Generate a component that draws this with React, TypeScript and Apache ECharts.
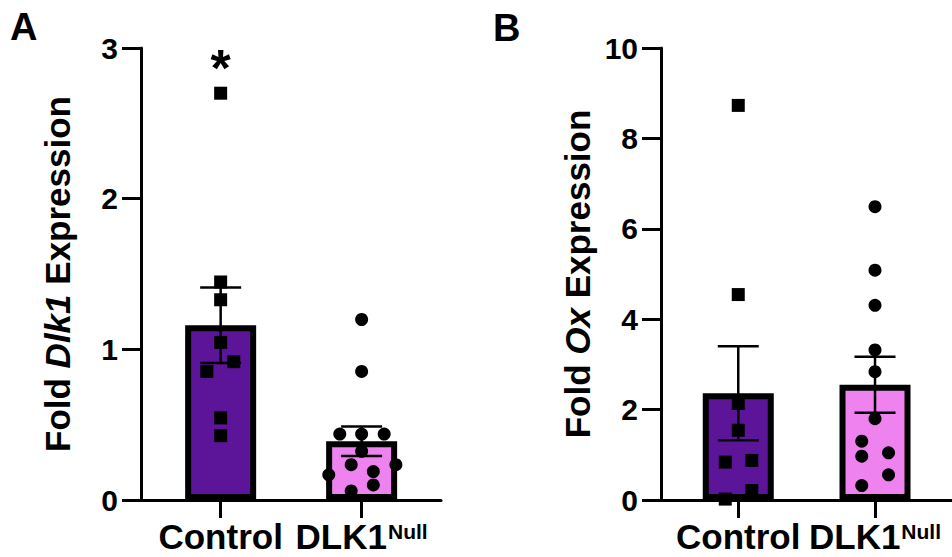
import React, { useEffect, useRef } from "react";
import * as echarts from "echarts";

// ---------- data ----------
const categories = ["Control", "DLK1"];
const catIndex = [0, 1];

// Panel A: Fold Dlk1 expression
const dlk1Means = [1.16, 0.39];
const dlk1Sem = [0.25, 0.098];
const dlk1ControlPoints = [2.7, 1.447, 1.329, 1.046, 0.918, 0.853, 0.545, 0.427];
const dlk1ControlJitter = [0, 0, 0, 0, 0.093, -0.098, 0, 0];
const dlk1NullPoints = [1.198, 0.853, 0.438, 0.438, 0.438, 0.323, 0.234, 0.234, 0.167, 0.189, 0.1, 0.06];
const dlk1NullJitter = [0, 0, -0.155, 0, 0.16, 0, -0.074, 0.243, -0.233, 0.083, 0.083, -0.074];
const dlk1AxisMax = 3;
const dlk1AxisStep = 1;
const dlk1Significance = 2.92;

// Panel B: Fold Ox expression
const oxMeans = [2.36, 2.55];
const oxSem = [1.04, 0.62];
const oxControlPoints = [8.73, 4.545, 2.135, 1.543, 0.838, 0.876, 0.209, 0.02];
const oxControlJitter = [0, 0, 0, 0, -0.095, 0.099, 0.099, -0.095];
const oxNullPoints = [6.49, 5.085, 4.307, 3.32, 2.84, 1.8, 1.3, 0.97, 1.045, 0.556, 0.32];
const oxNullJitter = [0, 0, 0, 0, 0, 0, -0.097, -0.097, 0.099, 0.099, -0.097];
const oxAxisMax = 10;
const oxAxisStep = 2;

// ---------- styles ----------
const FONT = "'Liberation Sans', Arial, sans-serif";
const BAR_COLORS = ["#5c1599", "#ee82ee"];
const X_MIN = -0.565;
const X_MAX = 1.563;

function App() {
  const ref = useRef<HTMLDivElement>(null);

  useEffect(() => {
    if (!ref.current) return;
    const chart = echarts.init(ref.current, null, { renderer: "svg" });

    const grids = [
      { left: 141, top: 48, width: 300, height: 452 },
      { left: 661, top: 48, width: 300, height: 452 },
    ];

    const xAxisFor = (gi: number) => ({
      type: "value",
      gridIndex: gi,
      min: X_MIN,
      max: X_MAX,
      splitLine: { show: false },
      axisLine: { show: true, onZero: false, lineStyle: { color: "#000", width: 3 } },
      axisTick: {
        show: true,
        customValues: catIndex,
        length: 18,
        lineStyle: { color: "#000", width: 3 },
      },
      axisLabel: {
        show: true,
        customValues: catIndex,
        margin: 21,
        formatter: (v: number) =>
          Math.round(v) === 0 ? `{c|${categories[0]}}` : `{d|${categories[1]}}{s|Null}`,
        rich: {
          c: { fontFamily: FONT, fontWeight: "bold", fontSize: 35, color: "#000", lineHeight: 30 },
          d: { fontFamily: FONT, fontWeight: "bold", fontSize: 35, color: "#000", lineHeight: 30 },
          s: {
            fontFamily: FONT,
            fontWeight: "bold",
            fontSize: 21,
            color: "#000",
            lineHeight: 7,
            verticalAlign: "top",
            padding: [0, 0, 0, 1],
          },
        },
      },
    });

    const yAxisFor = (gi: number, max: number, step: number, name: string) => ({
      type: "value",
      gridIndex: gi,
      min: 0,
      max,
      interval: step,
      splitLine: { show: false },
      axisLine: { show: true, onZero: false, lineStyle: { color: "#000", width: 3 } },
      axisTick: { show: true, length: 19, lineStyle: { color: "#000", width: 3 } },
      axisLabel: {
        fontFamily: FONT,
        fontWeight: "bold",
        fontSize: 30,
        color: "#000",
        margin: 23,
      },
      name,
      nameLocation: "middle",
      nameGap: 66,
      nameTextStyle: {
        fontFamily: FONT,
        fontWeight: "bold",
        fontSize: 35,
        color: "#000",
        rich: {
          n: { fontFamily: FONT, fontWeight: "bold", fontSize: 35, color: "#000" },
          i: { fontFamily: FONT, fontWeight: "bold", fontStyle: "italic", fontSize: 35, color: "#000" },
        },
      },
    });

    const barSeries = (gi: number, means: number[]) => ({
      type: "bar",
      xAxisIndex: gi,
      yAxisIndex: gi,
      barWidth: 71,
      z: 2,
      data: means.map((m, i) => ({
        value: [catIndex[i], m],
        itemStyle: { color: BAR_COLORS[i], borderColor: "#000", borderWidth: 6 },
      })),
    });

    const errorSeries = (gi: number, means: number[], sems: number[]) => ({
      type: "custom",
      xAxisIndex: gi,
      yAxisIndex: gi,
      z: 3,
      data: means.map((m, i) => [catIndex[i], m - sems[i], m + sems[i]]),
      renderItem: (params: any, api: any) => {
        const x = api.value(0);
        const lo = api.coord([x, api.value(1)]);
        const hi = api.coord([x, api.value(2)]);
        const half = 20.5;
        const style = { stroke: "#000", lineWidth: 2.5 };
        return {
          type: "group",
          children: [
            { type: "line", shape: { x1: lo[0], y1: lo[1], x2: hi[0], y2: hi[1] }, style },
            { type: "line", shape: { x1: hi[0] - half, y1: hi[1], x2: hi[0] + half, y2: hi[1] }, style },
            { type: "line", shape: { x1: lo[0] - half, y1: lo[1], x2: lo[0] + half, y2: lo[1] }, style },
          ],
        };
      },
    });

    const pointSeries = (gi: number, ci: number, pts: number[], jit: number[], symbol: string) => ({
      type: "scatter",
      xAxisIndex: gi,
      yAxisIndex: gi,
      z: 4,
      symbol,
      symbolSize: 13,
      itemStyle: { color: "#000", opacity: 1 },
      data: pts.map((v, i) => [catIndex[ci] + jit[i], v]),
    });

    const letterStyle = { fontFamily: FONT, fontWeight: "bold", fontSize: 38, color: "#000" };

    const option: any = {
      animation: false,
      backgroundColor: "#fff",
      title: [
        { text: "A", left: 10, top: 8, padding: 0, textStyle: letterStyle },
        { text: "B", left: 493, top: 9, padding: 0, textStyle: letterStyle },
      ],
      grid: grids,
      xAxis: [xAxisFor(0), xAxisFor(1)],
      yAxis: [
        yAxisFor(0, dlk1AxisMax, dlk1AxisStep, "{n|Fold }{i|Dlk1}{n| Expression}"),
        yAxisFor(1, oxAxisMax, oxAxisStep, "{n|Fold }{i|Ox}{n| Expression}"),
      ],
      series: [
        barSeries(0, dlk1Means),
        errorSeries(0, dlk1Means, dlk1Sem),
        pointSeries(0, 0, dlk1ControlPoints, dlk1ControlJitter, "rect"),
        pointSeries(0, 1, dlk1NullPoints, dlk1NullJitter, "circle"),
        {
          type: "scatter",
          xAxisIndex: 0,
          yAxisIndex: 0,
          z: 5,
          symbolSize: 0,
          itemStyle: { opacity: 1 },
          data: [[catIndex[0], dlk1Significance]],
          label: {
            show: true,
            position: "inside",
            formatter: "*",
            offset: [0, 8],
            fontFamily: FONT,
            fontWeight: "bold",
            fontSize: 52,
            color: "#000",
            opacity: 1,
          },
        },
        barSeries(1, oxMeans),
        errorSeries(1, oxMeans, oxSem),
        pointSeries(1, 0, oxControlPoints, oxControlJitter, "rect"),
        pointSeries(1, 1, oxNullPoints, oxNullJitter, "circle"),
      ],
    };

    chart.setOption(option);
    return () => chart.dispose();
  }, []);

  return (
    <div
      ref={ref}
      style={{ position: "fixed", left: 0, top: 0, width: 952, height: 557, background: "#fff" }}
    />
  );
}

export default App;
